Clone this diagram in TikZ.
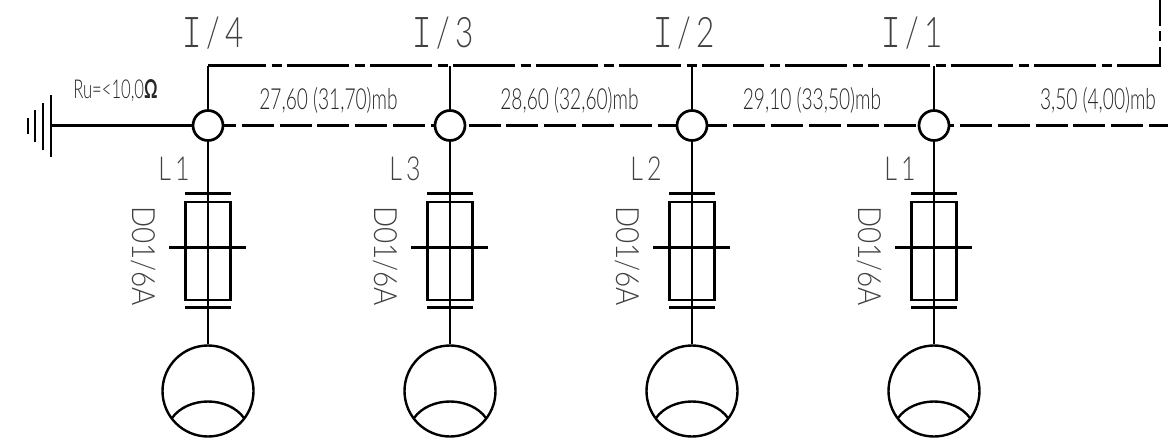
\documentclass[tikz,border=0pt]{standalone}
\usepackage{fontspec}
\newfontfamily\cadfont{Lato Light}
\newfontfamily\cadbold{Lato Bold}
\newfontfamily\cadmono{Latin Modern Mono Light}
\usetikzlibrary{positioning,backgrounds}
\tikzset{
    wire/.style={line width=2.7pt, line cap=butt},
    busdash/.style={wire, dash pattern=on 32pt off 5.8pt, dash phase=4pt},
    pedash/.style={wire, dash pattern=on 62pt off 5.5pt on 10pt off 5.5pt, dash phase=4pt},
    junction/.style={circle, draw, fill=white, line width=2.7pt, minimum size=30pt, inner sep=0pt},
    fusebox/.style={rectangle, draw, line width=2.9pt, minimum width=45pt, minimum height=98pt, inner sep=0pt},
    motor/.style={circle, draw, line width=2.4pt, minimum size=91pt, inner sep=0pt},
    tag/.style={font=\fontsize{42}{42}\cadfont, text=black!75, transform shape, xscale=.75, inner sep=0pt},
    lab/.style={font=\fontsize{29}{29}\cadfont, text=black!85, transform shape, xscale=.66, inner sep=0pt},
    fuselab/.style={font=\fontsize{32}{32}\cadfont, text=black!75, rotate=-90, transform shape, xscale=.87, inner sep=0pt}
}
\newcommand{\serifI}{{\fontsize{49}{49}\cadmono I}}
\begin{document}
\begin{tikzpicture}[x=1pt,y=-1pt]
    \useasboundingbox (0,0) rectangle (1168,440);

    % feeder lines
    \coordinate (peStart) at (208,65.5);
    \coordinate (peCorner) at (1160,65.5);
    \coordinate (peEnd) at (1160,0);
    \coordinate (busStart) at (208,125.5);
    \coordinate (busEnd) at (1168,125.5);
    \draw[pedash] (peStart) -- (peCorner) -- (peEnd);
    \draw[busdash] (busStart) -- (busEnd);

    % one column for each outlet
    \foreach \x/\name/\tagx/\phase/\phasex in {208/4/213/1/174, 450/3/443/3/405, 692/2/684/2/646, 934/1/912/1/900} {
        \node[junction] (j\name) at (\x,125.5) {};
        \node[fusebox] (f\name) at (\x,251) {};
        \node[motor] (m\name) at (\x,391) {};
        \draw[wire] (j\name.north) -- (\x,65.5);
        \draw[wire] (j\name.south) -- (m\name.north);
        \draw[wire] (\x-23,193.5) -- (\x+23,193.5);
        \draw[wire] (\x-23,307.5) -- (\x+23,307.5);
        \draw[wire] (\x-39,247.5) -- (\x+38,247.5);
        \draw[line width=2.4pt] (\x-36,418) .. controls (\x-20,396) and (\x+20,396) .. (\x+36,418);
        \node[tag] (t\name) at (\tagx,33) {\serifI\,/\,\name};
        \node[tag, xscale=1.01, font=\fontsize{33}{33}\cadfont] (p\name) at (\phasex,168.5) {L\,\phase};
        \node[fuselab] (d\name) at (\x-64.5,256) {D01/6A};
    }

    % cable data
    \node[lab] (c4) at (328.5,100) {27,60 (31,70)mb};
    \node[lab] (c3) at (569.5,100) {28,60 (32,60)mb};
    \node[lab] (c2) at (812,100) {29,10 (33,50)mb};
    \node[lab] (c1) at (1098,100) {3,50 (4,00)mb};
    \node[lab, font=\fontsize{26}{26}\cadfont, xscale=.97] (ru) at (115.5,91) {Ru=<10,0{\cadbold Ω}};

    % earth
    \coordinate (earth) at (51,125.5);
    \draw[wire] (earth) -- (j4.west);
    \draw[wire] (51,95) -- (51,157);
    \draw[wire] (43,103) -- (43,150);
    \draw[wire] (35,110) -- (35,142);
    \draw[wire] (28,118) -- (28,134);
\end{tikzpicture}
\end{document}
